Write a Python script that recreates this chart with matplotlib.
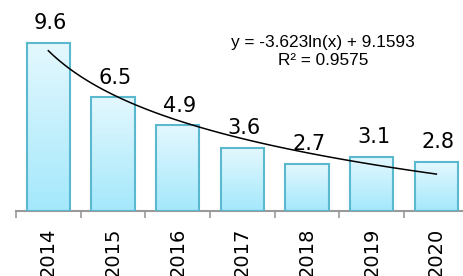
import numpy as np
import matplotlib.pyplot as plt
from matplotlib.colors import LinearSegmentedColormap

# 数据
years = ['2014', '2015', '2016', '2017', '2018', '2019', '2020']
values = [9.6, 6.5, 4.9, 3.6, 2.7, 3.1, 2.8]
# 对数趋势线 y = a*ln(x) + b
trend_a = -3.623
trend_b = 9.1593
r2 = 0.9575

fig = plt.figure(figsize=(4.64, 2.76), dpi=100)
ax = fig.add_axes([16 / 464, 1 - 211 / 276, 452.7 / 464, 211 / 276])

x = np.arange(len(years))
ax.set_xlim(-0.5, len(years) - 0.5)
ax.set_ylim(0, 211 / 17.5)

# 渐变柱子
cmap = LinearSegmentedColormap.from_list('bar', ['#a4e8fc', '#e4f8fe'])
grad = np.linspace(0, 1, 256).reshape(-1, 1)
w = 0.67
bars = ax.bar(x, values, width=w, facecolor='none', edgecolor='#5bb9cf',
              linewidth=1.5, zorder=3)
for b in bars:
    x0, y0 = b.get_x(), b.get_y()
    ax.imshow(grad, cmap=cmap, origin='lower', aspect='auto',
              extent=[x0, x0 + b.get_width(), y0, y0 + b.get_height()],
              zorder=2)

# 数据标签
for xi, v in zip(x, values):
    ax.annotate(f'{v}', (xi, v), xytext=(1.5, 7), textcoords='offset points',
                ha='center', va='bottom', fontsize=15, color='black',
                family='DejaVu Sans')

# 趋势线
tx = np.linspace(1, len(years), 100)
ty = trend_a * np.log(tx) + trend_b
ax.plot(tx - 1, ty, color='black', linewidth=1.1, zorder=4)

fig.text(323 / 464, 1 - 51.5 / 276,
         f'y = {trend_a}ln(x) + {trend_b}\nR² = {r2}',
         ha='center', va='center', fontsize=12.4,
         family='Liberation Sans', linespacing=1.25)

# 坐标轴
for s in ['top', 'right', 'left']:
    ax.spines[s].set_visible(False)
ax.spines['bottom'].set_color('#999999')
ax.spines['bottom'].set_linewidth(1.5)
ax.set_yticks([])
ax.set_xticks(x)
ax.set_xticklabels(years, rotation=90, fontsize=14, family='DejaVu Sans')
ax.tick_params(axis='x', which='major', length=0, pad=12)
ax.set_xticks(np.arange(-0.5, len(years), 1), minor=True)
ax.tick_params(axis='x', which='minor', length=5, width=1.2, color='#999999')

fig.savefig('out.png', dpi=100)
